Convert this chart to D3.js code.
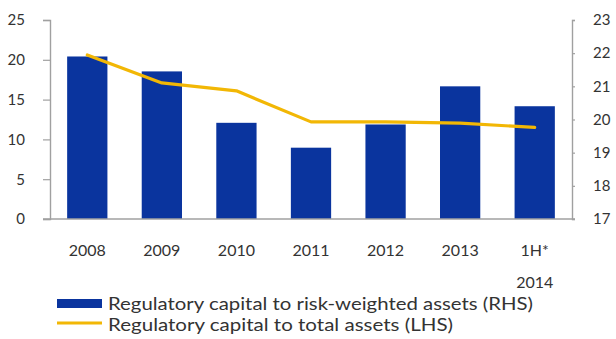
<!DOCTYPE html>
<html>
<head>
<meta charset="utf-8">
<script src="https://cdn.jsdelivr.net/npm/d3@7"></script>
<style>
  html, body { margin: 0; padding: 0; background: #fff; }
  svg { display: block; }
  text { font-family: Lato, "Open Sans", sans-serif; fill: #333; }
</style>
</head>
<body>
<svg id="chart" width="616" height="339"></svg>
<script>
// Periods on the horizontal axis (second line used for the half-year label)
const categories = ["2008", "2009", "2010", "2011", "2012", "2013", "1H* 2014"];
const categoryLines = [["2008"], ["2009"], ["2010"], ["2011"], ["2012"], ["2013"], ["1H*", "2014"]];
// Regulatory capital to risk-weighted assets, % (right-hand scale)
const capitalToRwa = [21.9, 21.45, 19.9, 19.15, 19.85, 21.0, 20.4];
// Regulatory capital to total assets, % (left-hand scale)
const capitalToAssets = [20.6, 17.1, 16.1, 12.2, 12.2, 12.05, 11.5];
const leftTicks = [0, 5, 10, 15, 20, 25];
const rightTicks = [17, 18, 19, 20, 21, 22, 23];
const legendLabels = [
  "Regulatory capital to risk-weighted assets (RHS)",
  "Regulatory capital to total assets (LHS)"
];
const legendWidths = [425, 345];

const svg = d3.select("#chart");
const plot = { left: 50, right: 572, top: 20, bottom: 219 };
const barColor = "#0a349e";
const lineColor = "#f2b705";
const axisColor = "#a0a0a0";

const x = d3.scaleBand().domain(categories).range([plot.left, plot.right]).paddingInner(0.46).paddingOuter(0.23);
const yL = d3.scaleLinear().domain([0, 25]).range([plot.bottom, plot.top]);
const yR = d3.scaleLinear().domain([17, 23]).range([plot.bottom, plot.top]);

// Bars (right-hand scale)
svg.append("g").selectAll("rect")
  .data(capitalToRwa)
  .join("rect")
  .attr("x", (d, i) => x(categories[i]))
  .attr("width", x.bandwidth())
  .attr("y", d => yR(d))
  .attr("height", d => plot.bottom - yR(d))
  .attr("fill", barColor);

// Left axis
const leftAxis = svg.append("g")
  .attr("transform", `translate(${plot.left},0)`)
  .call(d3.axisLeft(yL).tickValues(leftTicks).tickFormat(d3.format("d")).tickSize(7).tickPadding(18));
// Right axis
const rightAxis = svg.append("g")
  .attr("transform", `translate(${plot.right},0)`)
  .call(d3.axisRight(yR).tickValues(rightTicks).tickFormat(d3.format("d")).tickSize(3).tickPadding(18));

[leftAxis, rightAxis].forEach(g => {
  g.select(".domain").attr("stroke", axisColor).attr("stroke-width", 1.4);
  g.selectAll(".tick line").attr("stroke", axisColor).attr("stroke-width", 1.2);
  g.selectAll(".tick text").style("font-size", "15px").attr("fill", "#333");
});

// Baseline
svg.append("line")
  .attr("x1", plot.left - 7).attr("x2", plot.right + 3)
  .attr("y1", plot.bottom).attr("y2", plot.bottom)
  .attr("stroke", axisColor).attr("stroke-width", 1.4);

// Line (left-hand scale)
const line = d3.line()
  .x((d, i) => x(categories[i]) + x.bandwidth() / 2)
  .y(d => yL(d));
svg.append("path")
  .datum(capitalToAssets)
  .attr("d", line)
  .attr("fill", "none")
  .attr("stroke", lineColor)
  .attr("stroke-width", 3.2)
  .attr("stroke-linejoin", "round")
  .attr("stroke-linecap", "round");

// Category labels
const cat = svg.append("g").selectAll("text")
  .data(categoryLines)
  .join("text")
  .attr("text-anchor", "middle")
  .style("font-size", "16px")
  .attr("x", (d, i) => x(categories[i]) + x.bandwidth() / 2)
  .attr("y", 256);
cat.selectAll("tspan")
  .data(d => d)
  .join("tspan")
  .attr("x", function () { return d3.select(this.parentNode).attr("x"); })
  .attr("dy", (d, i) => i === 0 ? 0 : 32)
  .text(d => d);

// Legend
const legend = svg.append("g");
legend.append("rect")
  .attr("x", 57).attr("y", 299).attr("width", 45).attr("height", 9)
  .attr("fill", barColor);
legend.append("line")
  .attr("x1", 57).attr("x2", 102).attr("y1", 323).attr("y2", 323)
  .attr("stroke", lineColor).attr("stroke-width", 3);
legend.selectAll("text")
  .data(legendLabels)
  .join("text")
  .attr("x", 108)
  .attr("y", (d, i) => 310 + i * 21)
  .style("font-size", "18px")
  .attr("textLength", (d, i) => legendWidths[i])
  .attr("lengthAdjust", "spacingAndGlyphs")
  .text(d => d);
</script>
</body>
</html>
